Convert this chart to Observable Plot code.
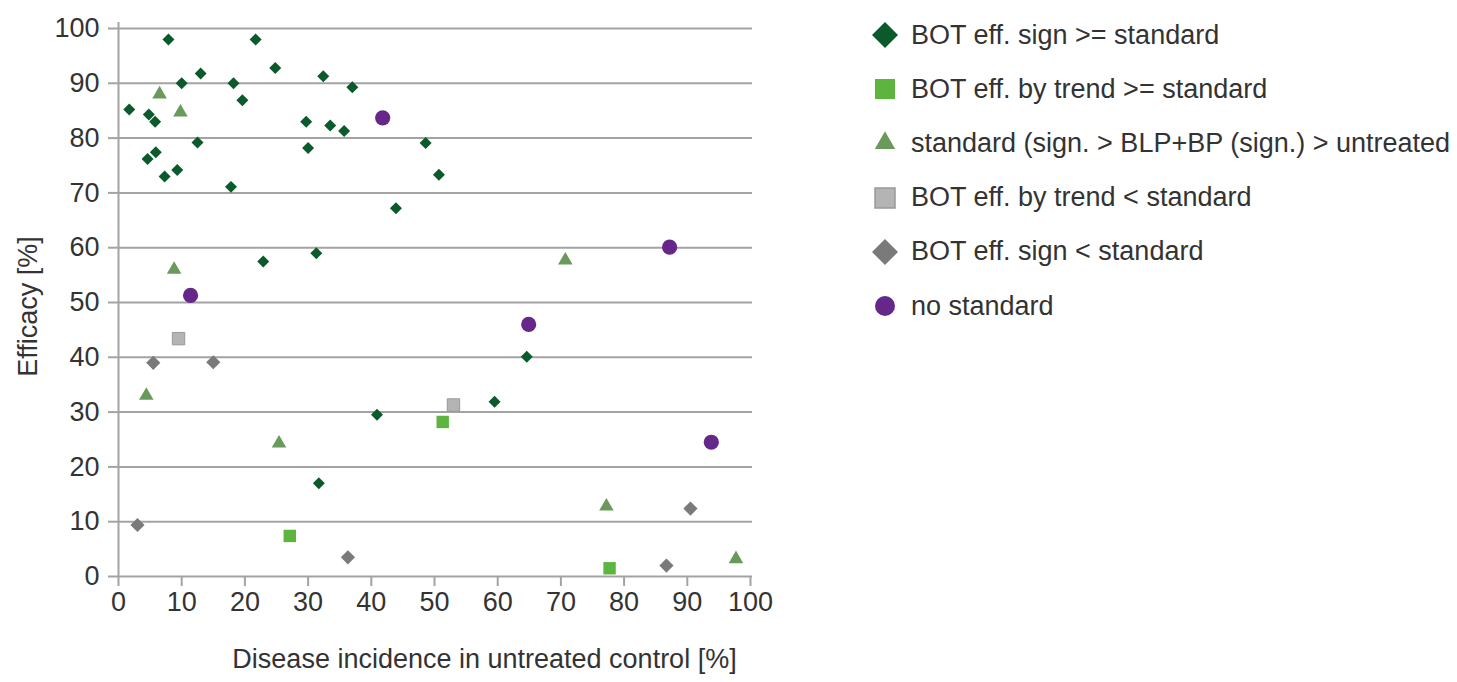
<!DOCTYPE html>
<html>
<head>
<meta charset="utf-8">
<script src="https://cdn.jsdelivr.net/npm/d3@7"></script>
<script src="https://cdn.jsdelivr.net/npm/@observablehq/plot@0.6"></script>
<style>
  body { margin: 0; background: #ffffff; font-family: "Liberation Sans", Arial, sans-serif; }
  #wrap { position: relative; width: 1457px; height: 682px; }
  #legend { position: absolute; left: 868px; top: 8px; }
  .row { display: flex; align-items: center; height: 54.2px; font-size: 27px; color: #333; white-space: nowrap; }
  .row svg { width: 34px; height: 34px; flex: none; margin-right: 9px; }
</style>
</head>
<body>
<div id="wrap">
  <div id="chart"></div>
  <div id="legend"></div>
</div>
<script>
// Series names, as shown in the legend
const categories = [
  "BOT eff. sign >= standard",
  "BOT eff. by trend >= standard",
  "standard (sign. > BLP+BP (sign.) > untreated",
  "BOT eff. by trend < standard",
  "BOT eff. sign < standard",
  "no standard"
];

// Disease incidence in untreated control [%] (x) and efficacy [%] (y) per series
const signGeX = [1.7, 7.9, 4.8, 5.8, 4.6, 5.9, 7.3, 9.3, 10.0, 13.0, 12.5, 17.8, 18.2, 19.6, 21.7, 24.8,
                 29.7, 30.0, 32.4, 33.5, 35.7, 37.0, 48.6, 50.7, 43.9, 22.9, 31.3, 40.9, 59.5, 64.6, 31.7];
const signGeY = [85.2, 98.0, 84.3, 83.0, 76.2, 77.4, 73.0, 74.2, 90.0, 91.8, 79.2, 71.1, 90.0, 86.9, 98.0, 92.8,
                 83.0, 78.2, 91.3, 82.3, 81.3, 89.3, 79.1, 73.3, 67.2, 57.5, 59.0, 29.5, 31.9, 40.1, 17.0];

const trendGeX = [51.3, 27.1, 77.7];
const trendGeY = [28.2, 7.4, 1.5];

const standardX = [6.5, 9.8, 8.8, 4.4, 25.4, 70.7, 77.2, 97.7];
const standardY = [88.0, 84.7, 56.0, 33.0, 24.3, 57.7, 12.8, 3.2];

const trendLtX = [9.5, 53.0];
const trendLtY = [43.4, 31.3];

const signLtX = [5.5, 15.0, 3.0, 36.3, 90.5, 86.7];
const signLtY = [39.0, 39.1, 9.4, 3.5, 12.4, 2.0];

const noStandardX = [41.8, 11.4, 64.9, 87.2, 93.8];
const noStandardY = [83.7, 51.3, 46.0, 60.1, 24.5];

// Axis ticks and titles
const xTicks = [0, 10, 20, 30, 40, 50, 60, 70, 80, 90, 100];
const yTicks = [0, 10, 20, 30, 40, 50, 60, 70, 80, 90, 100];
const xLabel = "Disease incidence in untreated control [%]";
const yLabel = "Efficacy [%]";

// Marker styling for each series (plot size, legend size)
const series = [
  {name: categories[0], xs: signGeX, ys: signGeY, symbol: "diamond2", fill: "#0a5a2c", stroke: "none", r: 5.4, legendSize: 430},
  {name: categories[1], xs: trendGeX, ys: trendGeY, symbol: "square", fill: "#5db43e", stroke: "none", r: 7.0, legendSize: 400},
  {name: categories[2], xs: standardX, ys: standardY, symbol: "triangle", fill: "#6a9a5b", stroke: "none", r: 5.4, legendSize: 180},
  {name: categories[3], xs: trendLtX, ys: trendLtY, symbol: "square", fill: "#b4b4b4", stroke: "#999999", r: 7.0, legendSize: 400},
  {name: categories[4], xs: signLtX, ys: signLtY, symbol: "diamond2", fill: "#7a7a7a", stroke: "none", r: 6.4, legendSize: 430},
  {name: categories[5], xs: noStandardX, ys: noStandardY, symbol: "circle", fill: "#65288a", stroke: "none", r: 7.6, legendSize: 314}
];

const pointsOf = s => s.xs.map((x, i) => ({x, y: s.ys[i], series: s.name}));

const gridColor = "#a3a3a3";
const textColor = "#333333";
const font = "\"Liberation Sans\", Arial, sans-serif";

const chart = Plot.plot({
  width: 860,
  height: 682,
  marginLeft: 118,
  marginRight: 110,
  marginTop: 28,
  marginBottom: 106,
  style: {fontFamily: font, fontSize: "27px", color: textColor, background: "transparent"},
  x: {domain: [0, 100]},
  y: {domain: [0, 100]},
  marks: [
    Plot.ruleY(yTicks, {stroke: gridColor, strokeWidth: 2, insetRight: -2}),
    Plot.ruleX([0], {stroke: gridColor, strokeWidth: 2, insetTop: -6}),
    Plot.axisY({ticks: yTicks, tickSize: 10, tickPadding: 9, stroke: gridColor, strokeWidth: 2,
                fill: textColor, fontSize: 27, label: null}),
    Plot.axisX({ticks: xTicks, tickSize: 10, tickPadding: 5, stroke: gridColor, strokeWidth: 2,
                fill: textColor, fontSize: 27, label: null}),
    Plot.text([yLabel], {frameAnchor: "left", textAnchor: "middle", rotate: -90, dx: -90, dy: 4,
                         fill: textColor, fontSize: 27}),
    Plot.text([xLabel], {frameAnchor: "bottom", textAnchor: "middle", dx: 50, dy: 91, fill: textColor, fontSize: 27}),
    ...series.map(s => Plot.dot(pointsOf(s), {
      x: "x", y: "y", symbol: s.symbol, fill: s.fill, stroke: s.stroke, strokeWidth: 1, r: s.r
    }))
  ]
});
document.getElementById("chart").appendChild(chart);

// Legend: one row per series with its marker drawn by d3.symbol
const legend = d3.select("#legend");
const symbolTypes = {diamond2: d3.symbolDiamond2, square: d3.symbolSquare, triangle: d3.symbolTriangle, circle: d3.symbolCircle};
for (const s of series) {
  const row = legend.append("div").attr("class", "row");
  const svg = row.append("svg").attr("viewBox", "-17 -17 34 34");
  svg.append("path")
    .attr("d", d3.symbol(symbolTypes[s.symbol], s.legendSize)())
    .attr("fill", s.fill)
    .attr("stroke", s.stroke === "none" ? null : s.stroke)
    .attr("stroke-width", 1.5);
  row.append("span").text(s.name);
}
</script>
</body>
</html>
